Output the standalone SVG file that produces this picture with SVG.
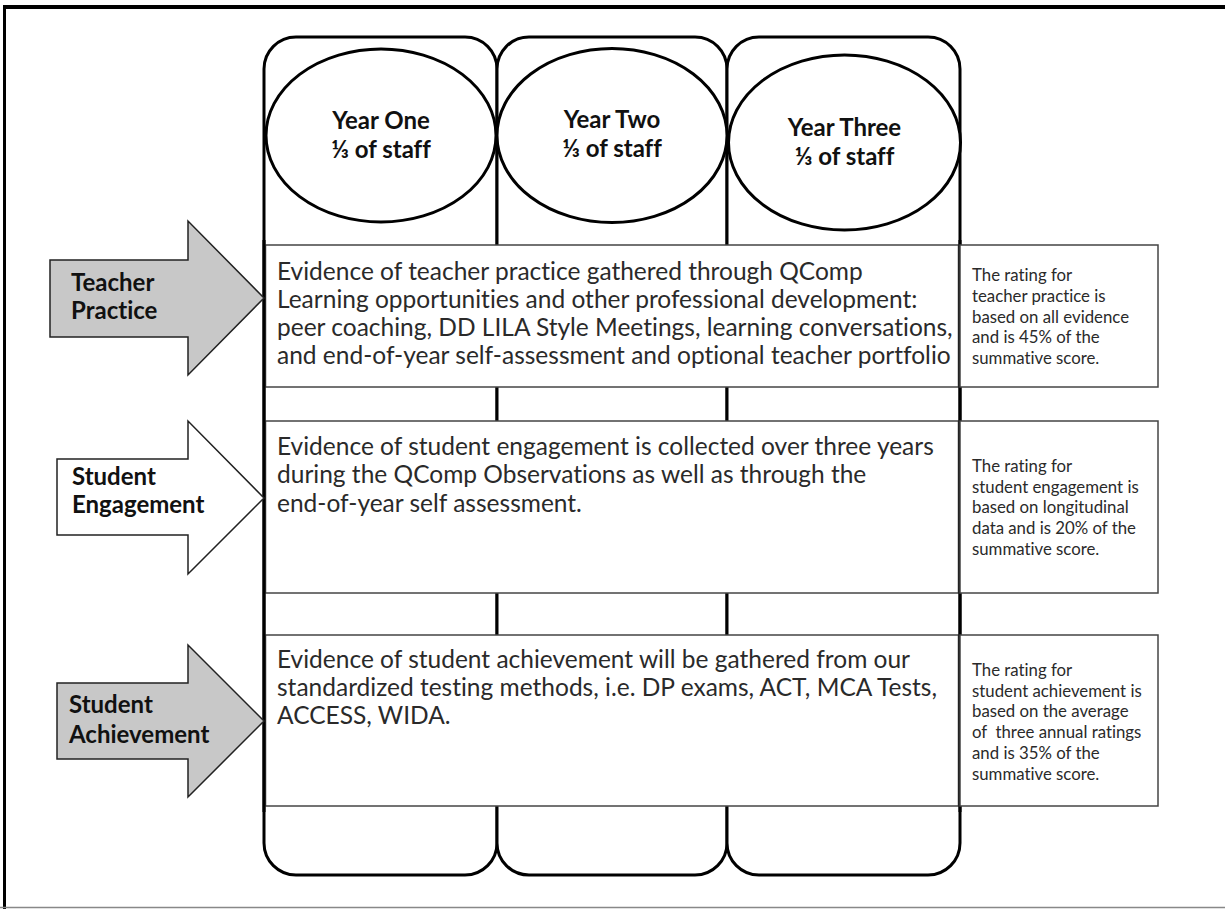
<svg xmlns="http://www.w3.org/2000/svg" width="1225" height="909" viewBox="0 0 1225 909">
<style>
text{font-variant-ligatures:no-common-ligatures}
.col{fill:#fff;stroke:#000;stroke-width:3}
.ell{fill:#fff;stroke:#000;stroke-width:3}
.box{fill:#fff;stroke:#444;stroke-width:1.5}
.edge{stroke:#000;stroke-width:3}
.hd{font-family:Lato,"Liberation Sans",sans-serif;font-weight:bold;font-size:24px;fill:#111}
.yr{font-family:Lato,"Liberation Sans",sans-serif;font-weight:bold;font-size:24px;fill:#111;text-anchor:middle}
.main{font-family:Lato,"Liberation Sans",sans-serif;font-size:24.5px;fill:#2a2a2a}
.side{font-family:Lato,"Liberation Sans",sans-serif;font-size:16.8px;fill:#2a2a2a}
.arrG{fill:#c8c8c8;stroke:#222;stroke-width:1.5}
.arrW{fill:#fff;stroke:#222;stroke-width:1.5}
</style>
<rect width="1225" height="909" fill="#fff"/>
<g id="page-border">
<line x1="3" y1="7" x2="1225" y2="7" stroke="#000" stroke-width="4"/>
<line x1="4.5" y1="6" x2="4.5" y2="909" stroke="#000" stroke-width="3"/>
<line x1="0" y1="907.5" x2="1225" y2="907.5" stroke="#888" stroke-width="1.5"/>
</g>
<g id="columns">
<rect class="col" x="264" y="37" width="233" height="838" rx="32" ry="32"/>
<rect class="col" x="497" y="37" width="230" height="838" rx="32" ry="32"/>
<rect class="col" x="727" y="37" width="233" height="838" rx="32" ry="32"/>
</g>
<g id="year-one">
<ellipse class="ell" cx="381" cy="135.5" rx="115" ry="86.5"/>
<text class="yr" x="381" y="129">Year One</text>
<text class="yr" x="381" y="158">⅓ of staff</text>
</g>
<g id="year-two">
<ellipse class="ell" cx="612" cy="135.5" rx="115" ry="87"/>
<text class="yr" x="612" y="128">Year Two</text>
<text class="yr" x="612" y="157">⅓ of staff</text>
</g>
<g id="year-three">
<ellipse class="ell" cx="844.5" cy="142.5" rx="116" ry="87.5"/>
<text class="yr" x="844.5" y="136">Year Three</text>
<text class="yr" x="844.5" y="165">⅓ of staff</text>
</g>
<g id="teacher-practice-evidence">
<rect class="box" x="265.5" y="245" width="693" height="142"/>
<text class="main" x="277" y="280">Evidence of teacher practice gathered through QComp</text>
<text class="main" x="277" y="308">Learning opportunities and other professional development:</text>
<text class="main" x="277" y="336">peer coaching, DD LILA Style Meetings, learning conversations,</text>
<text class="main" x="277" y="364">and end-of-year self-assessment and optional teacher portfolio</text>
</g>
<g id="student-engagement-evidence">
<rect class="box" x="265.5" y="421" width="693" height="172"/>
<text class="main" x="277" y="455">Evidence of student engagement is collected over three years</text>
<text class="main" x="277" y="483">during the QComp Observations as well as through the</text>
<text class="main" x="277" y="512">end-of-year self assessment.</text>
</g>
<g id="student-achievement-evidence">
<rect class="box" x="265.5" y="635" width="693" height="171"/>
<text class="main" x="277" y="668">Evidence of student achievement will be gathered from our</text>
<text class="main" x="277" y="696">standardized testing methods, i.e. DP exams, ACT, MCA Tests,</text>
<text class="main" x="277" y="724">ACCESS, WIDA.</text>
</g>
<g id="column-edges">
<line class="edge" x1="264" y1="240" x2="264" y2="812"/>
<line class="edge" x1="960" y1="240" x2="960" y2="812"/>
</g>
<g id="teacher-practice-rating">
<rect class="box" x="960" y="245" width="198" height="142"/>
<text class="side" x="972" y="281">The rating for</text>
<text class="side" x="972" y="302">teacher practice is</text>
<text class="side" x="972" y="323">based on all evidence</text>
<text class="side" x="972" y="343">and is 45% of the</text>
<text class="side" x="972" y="364">summative score.</text>
</g>
<g id="student-engagement-rating">
<rect class="box" x="960" y="421" width="198" height="172"/>
<text class="side" x="972" y="472">The rating for</text>
<text class="side" x="972" y="493">student engagement is</text>
<text class="side" x="972" y="513">based on longitudinal</text>
<text class="side" x="972" y="534">data and is 20% of the</text>
<text class="side" x="972" y="555">summative score.</text>
</g>
<g id="student-achievement-rating">
<rect class="box" x="960" y="635" width="198" height="171"/>
<text class="side" x="972" y="676">The rating for</text>
<text class="side" x="972" y="697">student achievement is</text>
<text class="side" x="972" y="717">based on the average</text>
<text class="side" x="972" y="738" xml:space="preserve">of  three annual ratings</text>
<text class="side" x="972" y="759">and is 35% of the</text>
<text class="side" x="972" y="780">summative score.</text>
</g>
<g id="connectors">
<g id="arrow-teacher-practice">
<polygon class="arrG" points="50,260 188,260 188,221 264,298 188,375 188,337 50,337"/>
<text class="hd" x="71" y="291">Teacher</text>
<text class="hd" x="71" y="319">Practice</text>
</g>
<g id="arrow-student-engagement">
<polygon class="arrW" points="57,459 188,459 188,421 264,498 188,574 188,535 57,535"/>
<text class="hd" x="72" y="485">Student</text>
<text class="hd" x="72" y="513">Engagement</text>
</g>
<g id="arrow-student-achievement">
<polygon class="arrG" points="57,683 188,683 188,645 264,721 188,797 188,759 57,759"/>
<text class="hd" x="69" y="713">Student</text>
<text class="hd" x="69" y="743">Achievement</text>
</g>
</g>
</svg>
